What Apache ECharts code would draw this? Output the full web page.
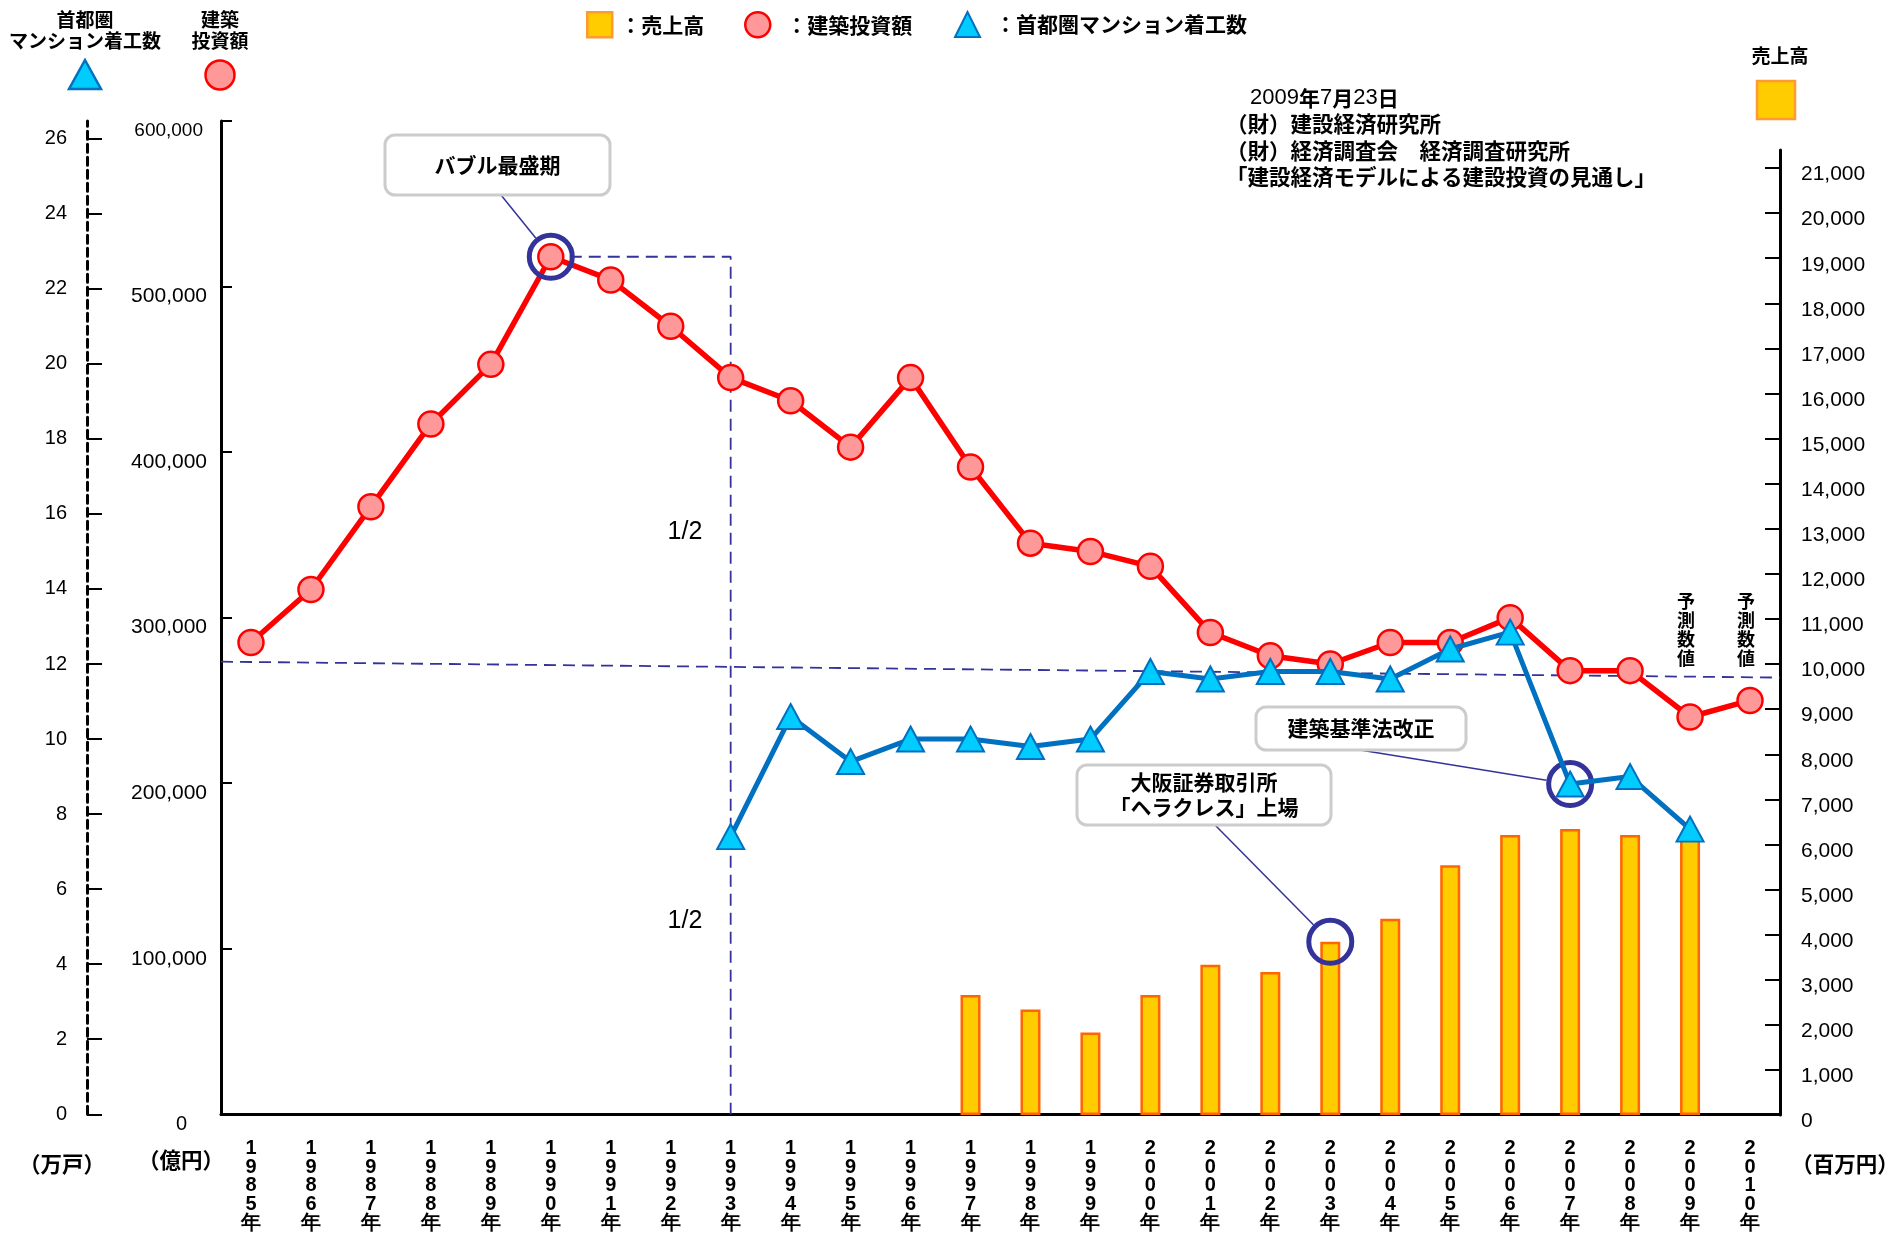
<!DOCTYPE html>
<html>
<head>
<meta charset="utf-8">
<script src="https://cdn.jsdelivr.net/npm/echarts@6/dist/echarts.min.js"></script>
<style>
  html, body { margin: 0; padding: 0; background: #fff; }
  #chart { width: 1895px; height: 1233px; }
</style>
</head>
<body>
<div id="chart"></div>
<script>
// Years on the category axis
const years = ['1985年','1986年','1987年','1988年','1989年','1990年','1991年','1992年','1993年',
  '1994年','1995年','1996年','1997年','1998年','1999年','2000年','2001年','2002年','2003年',
  '2004年','2005年','2006年','2007年','2008年','2009年','2010年'];

// 建築投資額 (億円)
const investment = [285000, 317000, 367000, 417000, 453000, 518000, 504000, 476000, 445000,
  431000, 403000, 445000, 391000, 345000, 340000, 331000, 291000, 277000, 272000,
  285000, 285000, 300000, 268000, 268000, 240000, 250000];

// 首都圏マンション着工数 (万戸)
const starts = [null, null, null, null, null, null, null, null, 7.4,
  10.6, 9.4, 10.0, 10.0, 9.8, 10.0, 11.8, 11.6, 11.8, 11.8,
  11.6, 12.4, 12.85, 8.8, 9.0, 7.6, null];

// 売上高 (百万円)
const sales = [null, null, null, null, null, null, null, null, null,
  null, null, null, 2660, 2340, 1830, 2660, 3330, 3170, 3840,
  4350, 5540, 6210, 6340, 6210, 6210, null];

// Axis ranges and tick values
const investAxis = { min: 0, max: 600000, interval: 100000 };
const startsAxis = { min: 0, max: 26.47, interval: 2 };
const startsTicks = [0, 2, 4, 6, 8, 10, 12, 14, 16, 18, 20, 22, 24, 26];
const salesAxis = { min: 0, max: 21400, interval: 1000 };
const salesTicks = [0, 1000, 2000, 3000, 4000, 5000, 6000, 7000, 8000, 9000, 10000,
  11000, 12000, 13000, 14000, 15000, 16000, 17000, 18000, 19000, 20000, 21000];

// Dashed "half of the peak" reference line: value at the left and right edge of the plot
const halfLine = [273400, 263800];

// Highlighted events
const peakYear = '1990年';
const bracketEndYear = '1993年';
const heraclesYear = '2003年';
const kijunYear = '2007年';
const forecastYears = ['2009年', '2010年'];

const peakIdx = years.indexOf(peakYear);
const peakValue = investment[peakIdx];
const bracketIdx = years.indexOf(bracketEndYear);

const FONT_NUM = "'Liberation Sans', Arial, sans-serif";
const FONT_JP = "'Noto Sans CJK JP', sans-serif";
const NAVY = '#333399';

const chart = echarts.init(document.getElementById('chart'), null, { renderer: 'canvas' });

const fmt = v => v.toLocaleString('en-US');

const legendText = pad => ({
  fontFamily: FONT_JP, fontWeight: 'bold', fontSize: 21, color: '#000', padding: [0, 0, 0, pad]
});

const ringStyle = { color: 'rgba(0,0,0,0)', borderColor: NAVY, borderWidth: 5, opacity: 1 };

const option = {
  animation: false,
  backgroundColor: '#ffffff',
  textStyle: { fontFamily: FONT_NUM },
  legend: [
    {
      left: 581, top: 6, itemWidth: 25, itemHeight: 25, selectedMode: false,
      textStyle: legendText(3), formatter: n => '：' + n,
      data: [{ name: '売上高', icon: 'rect',
        itemStyle: { color: '#FFCC00', borderColor: '#FF9933', borderWidth: 2.5 } }]
    },
    {
      left: 739, top: 6, itemWidth: 25, itemHeight: 25, selectedMode: false,
      textStyle: legendText(11), formatter: n => '：' + n,
      data: [{ name: '建築投資額', icon: 'circle',
        itemStyle: { color: '#FF9999', borderColor: '#FF0000', borderWidth: 2.5 } }]
    },
    {
      left: 949, top: 6, itemWidth: 25, itemHeight: 25, selectedMode: false,
      textStyle: legendText(10), formatter: n => '：' + n,
      data: [{ name: '首都圏マンション着工数', icon: 'triangle',
        itemStyle: { color: '#00CCFF', borderColor: '#0070C0', borderWidth: 2 } }]
    }
  ],
  grid: [
    { left: 221, right: 115, top: 121, bottom: 118 },
    { left: 221, right: 115, top: 150, bottom: 118 }
  ],
  xAxis: [
    {
      type: 'category', gridIndex: 0, data: years, boundaryGap: true,
      axisLine: { lineStyle: { color: '#000', width: 3 } },
      axisTick: { inside: true, length: 20, lineStyle: { color: '#000', width: 2 } },
      axisLabel: {
        interval: 0, margin: 25,
        formatter: v => v.split('').join('\n'),
        fontFamily: FONT_NUM, fontWeight: 'bold', fontSize: 20, lineHeight: 18.6, color: '#000'
      },
      splitLine: { show: false }
    },
    { type: 'value', gridIndex: 0, min: 0, max: years.length, show: false },
    { type: 'category', gridIndex: 1, data: years, boundaryGap: true, show: false }
  ],
  yAxis: [
    {
      type: 'value', gridIndex: 0, position: 'left',
      min: investAxis.min, max: investAxis.max, interval: investAxis.interval,
      axisLine: { show: true, lineStyle: { color: '#000', width: 3 } },
      axisTick: { show: true, inside: true, length: 11, lineStyle: { color: '#000', width: 2 } },
      axisLabel: {
        margin: 14, padding: [20, 0, 0, 0], color: '#000', fontSize: 21, fontFamily: FONT_NUM,
        formatter: v => v === 0 ? '{z|0}' : (v === investAxis.max ? '{s|' + fmt(v) + '}' : fmt(v)),
        rich: {
          z: { fontSize: 20, fontFamily: FONT_NUM, color: '#000', padding: [0, 20, 0, 0] },
          s: { fontSize: 19, fontFamily: FONT_NUM, color: '#000', padding: [0, 4, 0, 0] }
        }
      },
      splitLine: { show: false }
    },
    {
      type: 'value', gridIndex: 0, position: 'left', offset: 134,
      min: startsAxis.min, max: startsAxis.max, interval: startsAxis.interval,
      axisLine: { show: true, lineStyle: { color: '#000', width: 3, type: [8, 5] } },
      axisTick: { show: true, inside: true, length: 15, customValues: startsTicks,
        lineStyle: { color: '#000', width: 2 } },
      axisLabel: { margin: 20, padding: [20, 0, 0, 0], color: '#000', fontSize: 20,
        fontFamily: FONT_NUM, customValues: startsTicks },
      splitLine: { show: false }
    },
    {
      type: 'value', gridIndex: 1, position: 'right',
      min: salesAxis.min, max: salesAxis.max, interval: salesAxis.interval,
      axisLine: { show: true, lineStyle: { color: '#000', width: 3 } },
      axisTick: { show: true, inside: true, length: 15, customValues: salesTicks,
        lineStyle: { color: '#000', width: 2 } },
      axisLabel: { margin: 21, color: '#000', fontSize: 21, fontFamily: FONT_NUM,
        formatter: v => '{a|' + fmt(v) + '}', customValues: salesTicks,
        rich: { a: { fontSize: 21, fontFamily: FONT_NUM, color: '#000', padding: [13, 0, 0, 0] } } },
      splitLine: { show: false }
    }
  ],
  series: [
    {
      name: '売上高', type: 'bar', xAxisIndex: 2, yAxisIndex: 2,
      data: sales, barWidth: 20,
      itemStyle: { color: '#FFCC00', borderColor: '#FF6600', borderWidth: 2.5 },
      z: 2
    },
    {
      name: 'half-line', type: 'line', xAxisIndex: 1, yAxisIndex: 0, silent: true,
      data: [[0, halfLine[0]], [years.length, halfLine[1]]],
      symbol: 'none', lineStyle: { color: NAVY, width: 1.8, type: [12, 7] }, z: 1
    },
    {
      name: 'peak-bracket', type: 'line', xAxisIndex: 1, yAxisIndex: 0, silent: true,
      data: [[peakIdx + 0.5, peakValue], [bracketIdx + 0.5, peakValue], [bracketIdx + 0.5, 0]],
      symbol: 'none', lineStyle: { color: NAVY, width: 1.8, type: [12, 7] }, z: 1
    },
    {
      name: '建築投資額', type: 'line', xAxisIndex: 0, yAxisIndex: 0,
      data: investment,
      symbol: 'circle', symbolSize: 25,
      lineStyle: { color: '#FF0000', width: 5.5 },
      itemStyle: { color: '#FF9999', borderColor: '#FF0000', borderWidth: 2.5 },
      z: 3
    },
    {
      name: '首都圏マンション着工数', type: 'line', xAxisIndex: 0, yAxisIndex: 1,
      data: starts, connectNulls: false,
      symbol: 'triangle', symbolSize: [27, 25],
      lineStyle: { color: '#0070C0', width: 5 },
      itemStyle: { color: '#00CCFF', borderColor: '#0070C0', borderWidth: 2 },
      z: 4
    },
    {
      name: 'ring-peak', type: 'scatter', xAxisIndex: 0, yAxisIndex: 0, silent: true,
      data: [[peakYear, peakValue]], symbol: 'circle', symbolSize: 43,
      itemStyle: ringStyle, z: 5
    },
    {
      name: 'ring-kijun', type: 'scatter', xAxisIndex: 0, yAxisIndex: 1, silent: true,
      data: [[kijunYear, starts[years.indexOf(kijunYear)]]], symbol: 'circle', symbolSize: 43,
      itemStyle: ringStyle, z: 3
    },
    {
      name: 'ring-heracles', type: 'scatter', xAxisIndex: 2, yAxisIndex: 2, silent: true,
      data: [[heraclesYear, sales[years.indexOf(heraclesYear)]]], symbol: 'circle', symbolSize: 43,
      itemStyle: ringStyle, z: 5
    }
  ]
};

chart.setOption(option);

// ---- annotations placed from the data positions ----
const toPx = (seriesIndex, val) => chart.convertToPixel({ seriesIndex }, val);
const ringR = 24;

const peakPx = toPx(5, [peakYear, peakValue]);
const kijunPx = toPx(6, [kijunYear, starts[years.indexOf(kijunYear)]]);
const heraclesPx = toPx(7, [heraclesYear, sales[years.indexOf(heraclesYear)]]);

function leader(ax, ay, target) {
  const dx = target[0] - ax, dy = target[1] - ay;
  const d = Math.sqrt(dx * dx + dy * dy);
  const ex = target[0] - dx / d * ringR, ey = target[1] - dy / d * ringR;
  return { type: 'line', shape: { x1: ax, y1: ay, x2: ex, y2: ey },
    style: { stroke: NAVY, lineWidth: 1.5 }, z: 10 };
}

const boxes = [
  { text: 'バブル最盛期', x: 385, y: 135, w: 225, h: 60, ax: 501, target: peakPx },
  { text: '大阪証券取引所\n「ヘラクレス」上場', x: 1077, y: 765, w: 254, h: 60, ax: 1215, target: heraclesPx },
  { text: '建築基準法改正', x: 1256, y: 707, w: 210, h: 43, ax: 1360, target: kijunPx }
];

const graphics = [];
boxes.forEach(b => {
  graphics.push({
    type: 'rect', shape: { x: b.x, y: b.y, width: b.w, height: b.h, r: 10 },
    style: { fill: '#fff', stroke: '#cccccc', lineWidth: 3 }, z: 11
  });
  graphics.push({
    type: 'text', x: b.x + b.w / 2, y: b.y + b.h / 2, z: 12,
    style: { text: b.text, fill: '#000', font: 'bold 21px ' + FONT_JP, align: 'center',
      verticalAlign: 'middle', lineHeight: 25 }
  });
  graphics.push(leader(b.ax, b.y + b.h, b.target));
});

// 予測数値 markers above the forecast years
forecastYears.forEach(y => {
  const x = chart.convertToPixel({ xAxisIndex: 0 }, y);
  graphics.push({
    type: 'text', x: x - 4, y: 630, z: 12,
    style: { text: '予\n測\n数\n値', fill: '#000', font: 'bold 18px ' + FONT_JP,
      align: 'center', verticalAlign: 'middle', lineHeight: 19 }
  });
});

// "1/2" labels beside the bracket
[532, 921].forEach(yy => {
  graphics.push({
    type: 'text', x: 685, y: yy, z: 12,
    style: { text: '1/2', fill: '#000', font: '25px ' + FONT_NUM, align: 'center', verticalAlign: 'middle' }
  });
});

// Axis headings with their symbols
graphics.push(
  { type: 'text', x: 85, y: 30, style: { text: '首都圏\nマンション着工数', fill: '#000',
      font: 'bold 19px ' + FONT_JP, align: 'center', verticalAlign: 'middle', lineHeight: 21 } },
  { type: 'polygon', shape: { points: [[85, 60], [101, 89], [69, 89]] },
    style: { fill: '#00CCFF', stroke: '#0070C0', lineWidth: 2.5 } },
  { type: 'text', x: 220, y: 30, style: { text: '建築\n投資額', fill: '#000',
      font: 'bold 19px ' + FONT_JP, align: 'center', verticalAlign: 'middle', lineHeight: 21 } },
  { type: 'circle', shape: { cx: 220, cy: 75, r: 14.5 },
    style: { fill: '#FF9999', stroke: '#FF0000', lineWidth: 2.5 } },
  { type: 'text', x: 1780, y: 56, style: { text: '売上高', fill: '#000',
      font: 'bold 19px ' + FONT_JP, align: 'center', verticalAlign: 'middle' } },
  { type: 'rect', shape: { x: 1757, y: 81, width: 38, height: 38 },
    style: { fill: '#FFCC00', stroke: '#FF9933', lineWidth: 2.5 } },
  // Unit captions under the axes
  { type: 'text', x: 62, y: 1164, style: { text: '（万戸）', fill: '#000',
      font: 'bold 21.5px ' + FONT_JP, align: 'center', verticalAlign: 'middle' } },
  { type: 'text', x: 181, y: 1160, style: { text: '（億円）', fill: '#000',
      font: 'bold 21.5px ' + FONT_JP, align: 'center', verticalAlign: 'middle' } },
  { type: 'text', x: 1845, y: 1164, style: { text: '（百万円）', fill: '#000',
      font: 'bold 21.5px ' + FONT_JP, align: 'center', verticalAlign: 'middle' } },
  // Source note
  { type: 'text', x: 1250, y: 98, style: {
      text: '{n|2009}{k|年}{n|7}{k|月}{n|23}{k|日}', align: 'left', verticalAlign: 'middle',
      rich: { n: { font: '22px ' + FONT_NUM, fill: '#000' }, k: { font: 'bold 21px ' + FONT_JP, fill: '#000' } } } },
  { type: 'text', x: 1226, y: 111, style: {
      text: '（財）建設経済研究所\n（財）経済調査会　経済調査研究所\n「建設経済モデルによる建設投資の見通し」',
      fill: '#000', font: 'bold 21.5px ' + FONT_JP, align: 'left', verticalAlign: 'top', lineHeight: 26.5 } }
);

chart.setOption({ graphic: graphics });
</script>
</body>
</html>
